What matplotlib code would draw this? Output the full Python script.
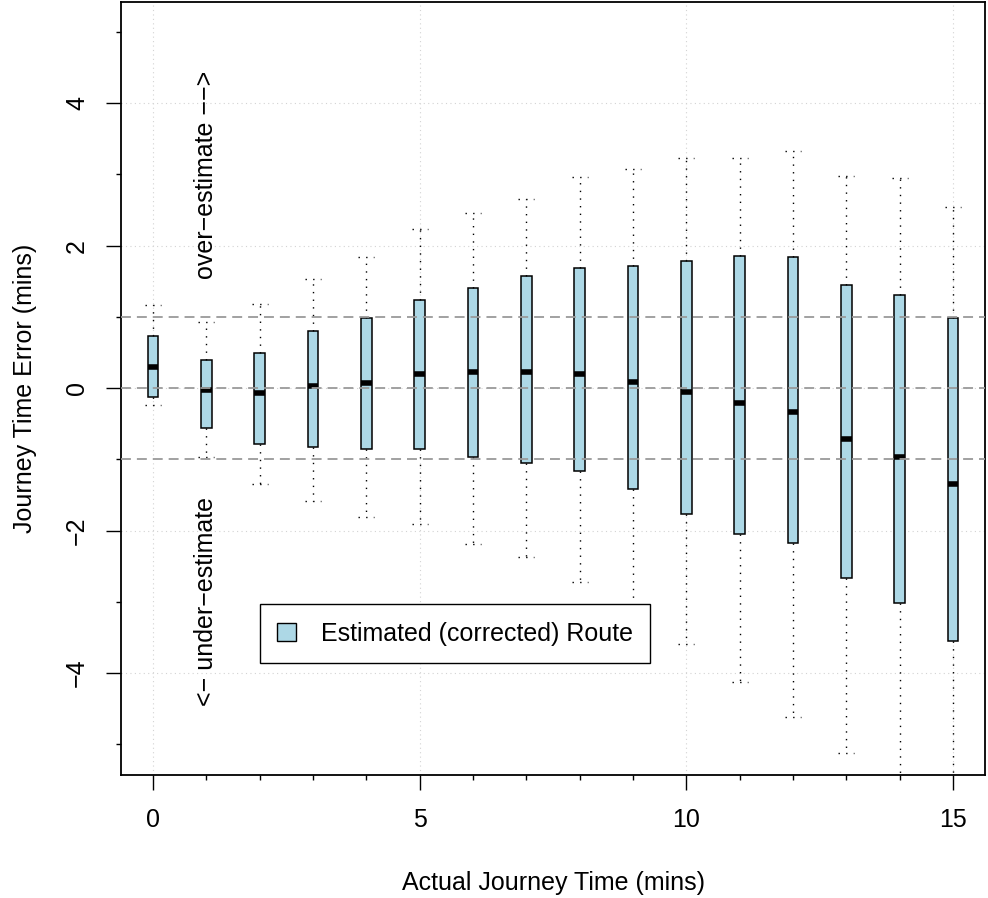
import numpy as np
import matplotlib
matplotlib.use("Agg")
import matplotlib.pyplot as plt
from matplotlib.patches import Patch

plt.rcParams['font.family'] = ['Liberation Sans', 'DejaVu Sans']

# Actual journey time (mins) - one box per minute
journey_time = list(range(16))

# box statistics (mins of error)
upper_whisker = [1.17, 0.93, 1.18, 1.53, 1.84, 2.24, 2.46, 2.65, 2.96, 3.07,
                 3.23, 3.23, 3.33, 2.98, 2.95, 2.54]
upper_quartile = [0.73, 0.39, 0.49, 0.80, 0.99, 1.24, 1.41, 1.57, 1.68, 1.72,
                  1.79, 1.86, 1.84, 1.45, 1.31, 0.99]
median = [0.29, -0.02, -0.07, 0.03, 0.07, 0.20, 0.22, 0.23, 0.20, 0.08,
          -0.06, -0.21, -0.34, -0.72, -0.97, -1.35]
lower_quartile = [-0.12, -0.56, -0.78, -0.83, -0.86, -0.86, -0.96, -1.05, -1.17, -1.41,
                  -1.77, -2.05, -2.17, -2.67, -3.02, -3.55]
lower_whisker = [-0.24, -0.97, -1.35, -1.58, -1.81, -1.90, -2.19, -2.37, -2.72, -3.40,
                 -3.59, -4.12, -4.61, -5.12, -5.80, -5.80]

legend_label = "Estimated (corrected) Route"

stats = []
for i in range(len(journey_time)):
    stats.append({'med': median[i], 'q1': lower_quartile[i], 'q3': upper_quartile[i],
                  'whislo': lower_whisker[i], 'whishi': upper_whisker[i]})

fig = plt.figure(figsize=(9.88, 8.98), dpi=100)
ax = fig.add_axes([121 / 988, 1 - 775 / 898, 864 / 988, 773 / 898])

dotted = (0, (1, 4.5))
ax.bxp(stats, positions=journey_time, widths=0.2, capwidths=0.3,
       showfliers=False, patch_artist=True,
       boxprops=dict(facecolor='#ADD8E6', edgecolor='black', linewidth=1.1),
       medianprops=dict(color='black', linewidth=4, solid_capstyle='butt'),
       whiskerprops=dict(color='black', linewidth=1.0, linestyle=dotted),
       capprops=dict(color='black', linewidth=1.0, linestyle=dotted),
       zorder=2)

for yy in [-1, 0, 1]:
    ax.axhline(yy, color='#9a9a9a', linewidth=1.3, linestyle=(0, (5.5, 3.3)), zorder=3)

ax.set_xlim(-0.6, 15.6)
ax.set_ylim(-5.43, 5.42)

ax.set_xticks([0, 5, 10, 15])
ax.set_xticklabels(['0', '5', '10', '15'])
ax.set_xticks(range(16), minor=True)
ax.set_yticks([-4, -2, 0, 2, 4])
ax.set_yticklabels(['\u22124', '\u22122', '0', '2', '4'])
ax.set_yticks([-5, -3, -1, 1, 3, 5], minor=True)

ax.grid(True, which='major', color='#d3d3d3', linestyle=(0, (1, 3)), linewidth=0.8, zorder=0)
ax.set_axisbelow(True)

ax.tick_params(which='major', length=11, width=1.0, labelsize=18)
ax.tick_params(which='minor', length=3.8, width=1.0)
ax.tick_params(axis='x', which='major', pad=13)
ax.tick_params(axis='y', which='major', pad=12, labelrotation=90)
for lab in ax.get_yticklabels():
    lab.set_va('center')

for sp in ax.spines.values():
    sp.set_linewidth(1.3)

ax.set_xlabel('Actual Journey Time (mins)', fontsize=18, labelpad=28)
ax.set_ylabel('Journey Time Error (mins)', fontsize=18, labelpad=20)

ax.text(1, 3, 'over\u2212estimate \u2212\u2212>', rotation=90, ha='center', va='center', fontsize=18)
ax.text(1, -3, '<\u2212 under\u2212estimate', rotation=90, ha='center', va='center', fontsize=18)

leg = ax.legend([Patch(facecolor='#ADD8E6', edgecolor='black', linewidth=1.0)], [legend_label],
                loc='upper left', bbox_to_anchor=(2, -3.03), bbox_transform=ax.transData,
                borderaxespad=0, fontsize=18, fancybox=False, framealpha=1,
                edgecolor='black', handlelength=0.75, handleheight=0.75,
                handletextpad=1.0, borderpad=0.7)
leg.get_frame().set_linewidth(1.0)
leg.set_zorder(10)

fig.savefig('out.png', dpi=100)
